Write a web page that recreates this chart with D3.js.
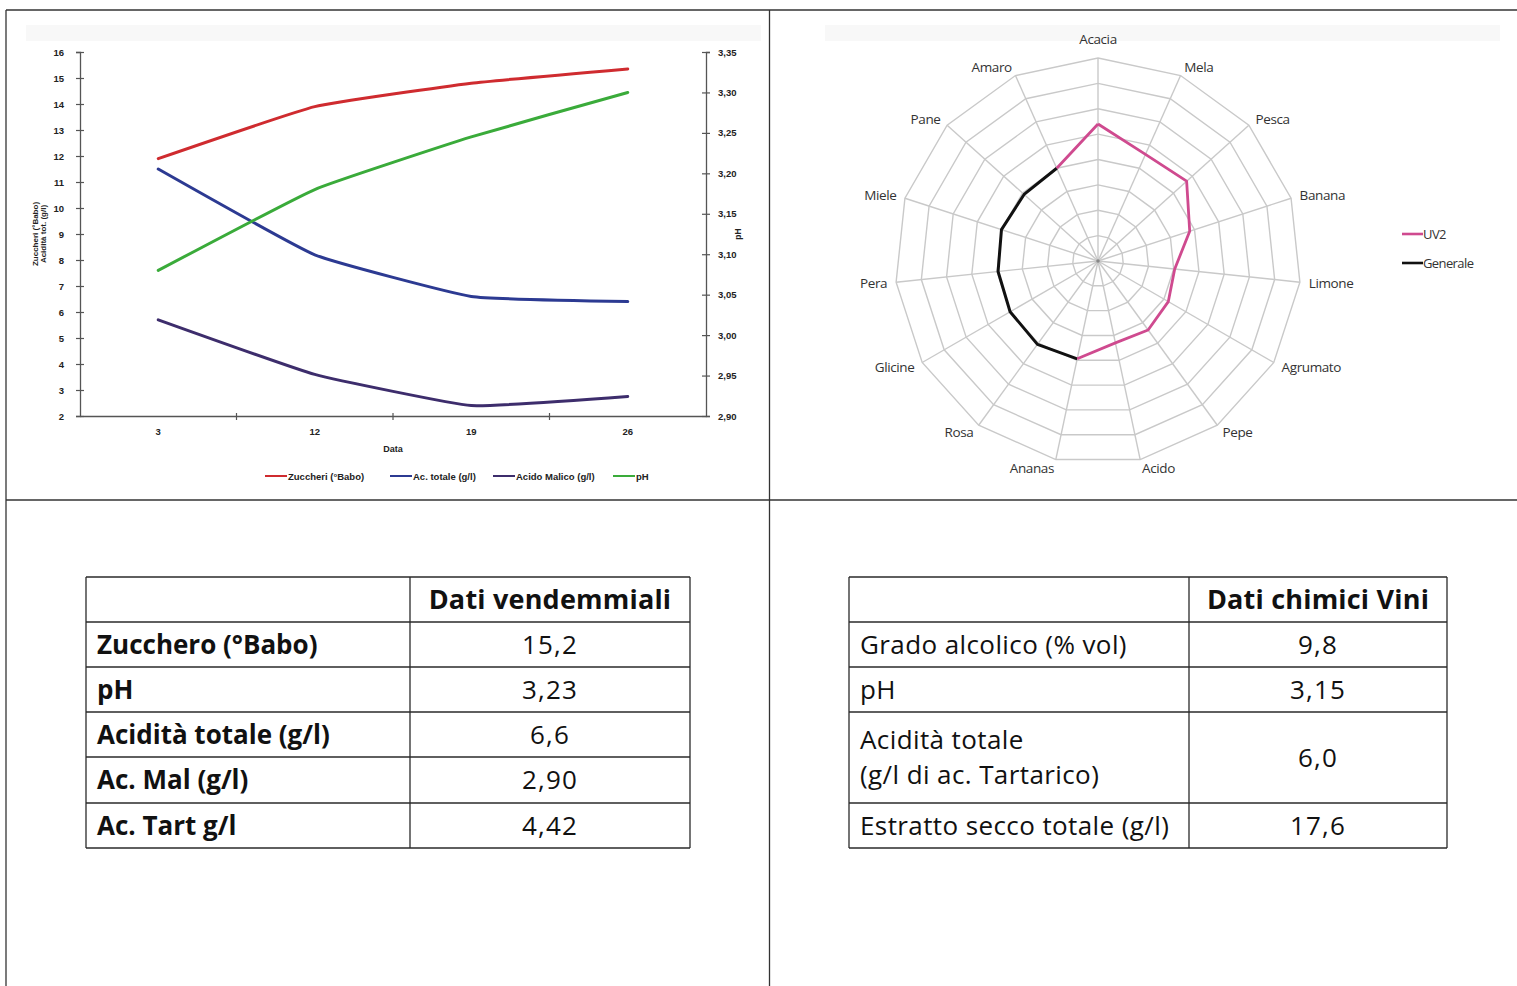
<!DOCTYPE html>
<html>
<head>
<meta charset="utf-8">
<script src="https://cdnjs.cloudflare.com/ajax/libs/d3/7.8.5/d3.min.js"></script>
<style>
  html, body { margin: 0; padding: 0; background: #fff; }
  svg { display: block; }
</style>
</head>
<body>
<svg id="page" width="1517" height="986"></svg>
<script>
// ---- Maturation curve (Zuccheri, acidity, pH by date) ----
const dates = ["3", "12", "19", "26"];
const zuccheri = [11.9, 13.9, 14.8, 15.35];
const acTotale = [11.5, 8.2, 6.6, 6.4];
const acidoMalico = [5.7, 3.6, 2.4, 2.75];
const phValues = [3.08, 3.18, 3.245, 3.30];
const leftTicks = [2, 3, 4, 5, 6, 7, 8, 9, 10, 11, 12, 13, 14, 15, 16];
const rightTicks = [2.90, 2.95, 3.00, 3.05, 3.10, 3.15, 3.20, 3.25, 3.30, 3.35];
const lineSeriesNames = ["Zuccheri (°Babo)", "Ac. totale (g/l)", "Acido Malico (g/l)", "pH"];

// ---- Sensory profile (radar) ----
const descriptors = ["Acacia", "Mela", "Pesca", "Banana", "Limone", "Agrumato", "Pepe", "Acido",
                     "Ananas", "Rosa", "Glicine", "Pera", "Miele", "Pane", "Amaro"];
const uv2 = [2.7, 2.3, 2.35, 1.9, 1.52, 1.6, 1.68, 1.65, 1.97, null, null, null, null, null, 2.0];
const generale = [null, null, null, null, null, null, null, null, 1.97, 2.03, 2.0, 1.98, 2.0, 1.96, 2.0];
const radarSeriesNames = ["UV2", "Generale"];

// ---- Tables ----
const vendLabels = ["Zucchero (°Babo)", "pH", "Acidità totale (g/l)", "Ac. Mal (g/l)", "Ac. Tart g/l"];
const vendValues = ["15,2", "3,23", "6,6", "2,90", "4,42"];
const viniLabels = [["Grado alcolico (% vol)"], ["pH"], ["Acidità totale", "(g/l di ac. Tartarico)"], ["Estratto secco totale (g/l)"]];
const viniValues = ["9,8", "3,15", "6,0", "17,6"];

const svg = d3.select("#page");
const chartFont = "'Liberation Sans', Arial, sans-serif";
const radarFont = "'Open Sans', Lato, sans-serif";
const tableFont = "'Open Sans', Lato, sans-serif";

// ---------- page frame ----------
const frame = svg.append("g").attr("stroke", "#333").attr("stroke-width", 1.3).attr("fill", "none");
frame.append("line").attr("x1", 6).attr("x2", 1517).attr("y1", 10).attr("y2", 10);
frame.append("line").attr("x1", 6).attr("x2", 6).attr("y1", 10).attr("y2", 986);
frame.append("line").attr("x1", 769.5).attr("x2", 769.5).attr("y1", 10).attr("y2", 986);
frame.append("line").attr("x1", 6).attr("x2", 1517).attr("y1", 500).attr("y2", 500);

// faint header bands of the embedded charts
svg.append("rect").attr("x", 26).attr("y", 25).attr("width", 735).attr("height", 16).attr("fill", "#f8f8f8");
svg.append("rect").attr("x", 825).attr("y", 25).attr("width", 675).attr("height", 16).attr("fill", "#f8f8f8");

// ---------- line chart ----------
{
  const g = svg.append("g").attr("font-family", chartFont);
  const x = d3.scaleBand().domain(dates).range([80, 706]);
  const yL = d3.scaleLinear().domain([2, 16]).range([416, 52]);
  const yR = d3.scaleLinear().domain([2.90, 3.35]).range([416, 52]);
  const axisColor = "#555";
  const tickFont = 9.5;

  // left axis
  const la = g.append("g").attr("transform", "translate(80,0)")
    .call(d3.axisLeft(yL).tickValues(leftTicks).tickSize(4).tickPadding(12).tickFormat(d3.format("d")));
  la.select(".domain").attr("stroke", axisColor).attr("stroke-width", 1.3);
  la.selectAll(".tick line").attr("stroke", axisColor).attr("x1", 4).attr("x2", -4).attr("stroke-width", 1.2);
  la.selectAll(".tick text").attr("font-size", tickFont).attr("font-weight", "bold").attr("fill", "#222");

  // right axis (pH)
  const fmtComma = v => d3.format(".2f")(v).replace(".", ",");
  const ra = g.append("g").attr("transform", "translate(706,0)")
    .call(d3.axisRight(yR).tickValues(rightTicks).tickSize(4).tickPadding(8).tickFormat(fmtComma));
  ra.select(".domain").attr("stroke", axisColor).attr("stroke-width", 1.3);
  ra.selectAll(".tick line").attr("stroke", axisColor).attr("x1", -4).attr("x2", 4).attr("stroke-width", 1.2);
  ra.selectAll(".tick text").attr("font-size", tickFont).attr("font-weight", "bold").attr("fill", "#222");

  // category axis with ticks between categories
  const xa = g.append("g").attr("transform", "translate(0,416)")
    .call(d3.axisBottom(x).tickSize(0).tickPadding(12));
  xa.select(".domain").attr("stroke", axisColor).attr("stroke-width", 1.3);
  xa.selectAll(".tick text").attr("font-size", tickFont).attr("font-weight", "bold").attr("fill", "#222");
  const bounds = dates.map(d => x(d)).concat([x(dates[dates.length - 1]) + x.bandwidth()]);
  xa.selectAll(".sep").data(bounds.slice(1, -1)).join("line")
    .attr("x1", d => d).attr("x2", d => d).attr("y1", -3).attr("y2", 4)
    .attr("stroke", axisColor).attr("stroke-width", 1.2);

  // titles
  g.append("text").attr("x", 393).attr("y", 452).attr("text-anchor", "middle")
    .attr("font-size", 9).attr("font-weight", "bold").attr("fill", "#222").text("Data");
  const lt = g.append("text").attr("transform", "translate(38,234) rotate(-90)")
    .attr("text-anchor", "middle").attr("font-size", 8).attr("font-weight", "bold").attr("fill", "#222");
  lt.append("tspan").attr("x", 0).attr("dy", 0).text("Zuccheri (°Babo)");
  lt.append("tspan").attr("x", 0).attr("dy", 7.5).text("Acidità tot. (g/l)");
  g.append("text").attr("transform", "translate(741,234) rotate(-90)")
    .attr("text-anchor", "middle").attr("font-size", 8.5).attr("font-weight", "bold").attr("fill", "#222").text("pH");

  const cx = d => x(d) + x.bandwidth() / 2;
  const series = [
    { name: lineSeriesNames[0], values: zuccheri, scale: yL, color: "#cf2b2f" },
    { name: lineSeriesNames[1], values: acTotale, scale: yL, color: "#2c3a92" },
    { name: lineSeriesNames[2], values: acidoMalico, scale: yL, color: "#3d2d6c" },
    { name: lineSeriesNames[3], values: phValues, scale: yR, color: "#3aab3a" }
  ];
  series.forEach(s => {
    const line = d3.line().x((v, i) => cx(dates[i])).y(v => s.scale(v)).curve(d3.curveCardinal.tension(0.65));
    g.append("path").attr("d", line(s.values)).attr("fill", "none")
      .attr("stroke", s.color).attr("stroke-width", 3).attr("stroke-linecap", "round");
  });

  // legend
  const legX = [265, 390, 493, 613];
  const leg = g.append("g");
  series.forEach((s, i) => {
    leg.append("line").attr("x1", legX[i]).attr("x2", legX[i] + 22).attr("y1", 476).attr("y2", 476)
      .attr("stroke", s.color).attr("stroke-width", 2);
    leg.append("text").attr("x", legX[i] + 23).attr("y", 479.5).attr("font-size", 9.5)
      .attr("font-weight", "bold").attr("fill", "#222").text(s.name);
  });
}

// ---------- radar chart ----------
{
  const g = svg.append("g").attr("font-family", radarFont);
  const cx = 1098, cy = 261, R = 203;
  const r = d3.scaleLinear().domain([0, 4]).range([0, R]);
  const rings = d3.range(0.5, 4.01, 0.5);
  const n = descriptors.length;
  const ang = i => (i / n) * 2 * Math.PI;
  const pt = (i, v) => [cx + r(v) * Math.sin(ang(i)), cy - r(v) * Math.cos(ang(i))];

  const grid = g.append("g").attr("stroke", "#c9c9c9").attr("stroke-width", 1.4).attr("fill", "none");
  rings.forEach(v => {
    grid.append("path").attr("d", d3.line()(descriptors.map((d, i) => pt(i, v))) + "Z");
  });
  descriptors.forEach((d, i) => {
    const [x2, y2] = pt(i, 4);
    grid.append("line").attr("x1", cx).attr("y1", cy).attr("x2", x2).attr("y2", y2);
  });
  g.append("circle").attr("cx", cx).attr("cy", cy).attr("r", 1.8).attr("fill", "#888");

  // axis labels
  descriptors.forEach((d, i) => {
    const s = Math.sin(ang(i)), c = Math.cos(ang(i));
    const lx = cx + (R + 9) * s, ly = cy - (R + 9) * c;
    const anchor = Math.abs(s) < 0.2 ? "middle" : (s > 0 ? "start" : "end");
    const shift = Math.abs(s) < 0.2 ? -c * 10 : 0;
    g.append("text").attr("x", lx).attr("y", ly + shift).attr("dy", "0.35em")
      .attr("text-anchor", anchor).attr("font-size", 13.5).attr("fill", "#333")
      .attr("letter-spacing", -0.4).text(d);
  });

  // both profiles wrap round from Amaro back to Acacia
  const closed = arr => arr.concat([arr[0]]);
  const rlc = d3.line().defined(v => v != null)
    .x((v, i) => pt(i % n, v)[0]).y((v, i) => pt(i % n, v)[1]);
  g.append("path").attr("d", rlc(closed(generale))).attr("fill", "none")
    .attr("stroke", "#111").attr("stroke-width", 3).attr("stroke-linejoin", "round");
  g.append("path").attr("d", rlc(closed(uv2))).attr("fill", "none")
    .attr("stroke", "#cf4a8f").attr("stroke-width", 2.8).attr("stroke-linejoin", "round");

  // legend
  const colors = ["#cf4a8f", "#111"];
  radarSeriesNames.forEach((name, i) => {
    const y = 234 + i * 29;
    g.append("line").attr("x1", 1402).attr("x2", 1423).attr("y1", y).attr("y2", y)
      .attr("stroke", colors[i]).attr("stroke-width", 2.6);
    g.append("text").attr("x", 1423).attr("y", y).attr("dy", "0.35em").attr("font-size", 13)
      .attr("fill", "#333").attr("letter-spacing", -0.6).text(name);
  });
}

// ---------- tables ----------
function drawTable(opts) {
  const g = svg.append("g").attr("font-family", tableFont);
  const { x0, x1, x2, top, headerH, rowHeights, header, labels, values, boldLabels } = opts;
  const ys = [top, top + headerH];
  rowHeights.forEach(h => ys.push(ys[ys.length - 1] + h));
  const bottom = ys[ys.length - 1];
  const st = g.append("g").attr("stroke", "#2a2a2a").attr("stroke-width", 1.3);
  ys.forEach(y => st.append("line").attr("x1", x0).attr("x2", x2).attr("y1", y).attr("y2", y));
  [x0, x1, x2].forEach(x => st.append("line").attr("x1", x).attr("x2", x).attr("y1", top).attr("y2", bottom));

  g.append("text").attr("x", (x1 + x2) / 2).attr("y", top + headerH / 2).attr("dy", "0.36em")
    .attr("text-anchor", "middle").attr("font-size", 27).attr("font-weight", "bold")
    .attr("fill", "#111").attr("letter-spacing", 0.2).text(header);

  labels.forEach((lab, i) => {
    const lines = Array.isArray(lab) ? lab : [lab];
    const yc = (ys[i + 1] + ys[i + 2]) / 2;
    const t = g.append("text").attr("x", x0 + 11).attr("font-size", 26)
      .attr("font-weight", boldLabels ? "bold" : "normal").attr("fill", "#111")
      .attr("letter-spacing", boldLabels ? 0 : 0.4);
    lines.forEach((ln, j) => {
      t.append("tspan").attr("x", x0 + 11)
        .attr("y", yc + (j - (lines.length - 1) / 2) * 35).attr("dy", "0.36em").text(ln);
    });
    g.append("text").attr("x", (x1 + x2) / 2).attr("y", yc).attr("dy", "0.36em")
      .attr("text-anchor", "middle").attr("font-size", 26).attr("fill", "#111")
      .attr("letter-spacing", 1.2).text(values[i]);
  });
}

drawTable({ x0: 86, x1: 410, x2: 690, top: 577, headerH: 45, rowHeights: [45, 45, 45, 46, 45],
  header: "Dati vendemmiali", labels: vendLabels, values: vendValues, boldLabels: true });
drawTable({ x0: 849, x1: 1189, x2: 1447, top: 577, headerH: 45, rowHeights: [45, 45, 91, 45],
  header: "Dati chimici Vini", labels: viniLabels, values: viniValues, boldLabels: false });
</script>
</body>
</html>
